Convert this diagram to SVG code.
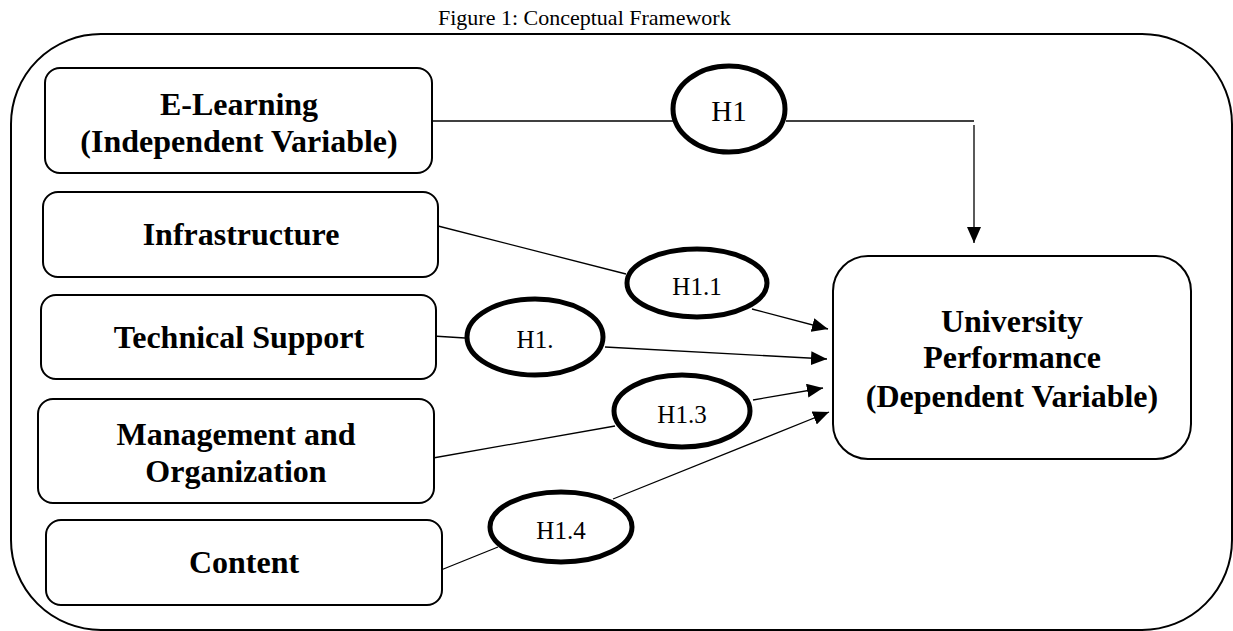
<svg xmlns="http://www.w3.org/2000/svg" width="1233" height="631" viewBox="0 0 1233 631">
  <defs>
    <marker id="arrow" viewBox="0 0 16 14" refX="16" refY="7" markerWidth="16" markerHeight="14" markerUnits="userSpaceOnUse" orient="auto">
      <path d="M0,0 L16,7 L0,14 Z" fill="#000"/>
    </marker>
    <style>
      .box { fill: #fff; stroke: #000; stroke-width: 2; }
      .outer { fill: none; stroke: #000; stroke-width: 2; }
      .hyp { fill: #fff; stroke: #000; stroke-width: 5; }
      .lbl { font-family: "Liberation Serif", "Times New Roman", serif; font-weight: bold; font-size: 32px; text-anchor: middle; fill: #000; }
      .htxt { font-family: "Liberation Serif", "Times New Roman", serif; font-size: 25px; text-anchor: middle; fill: #000; }
      .title { font-family: "Liberation Serif", "Times New Roman", serif; font-size: 22px; fill: #000; }
      .conn { fill: none; stroke: #000; stroke-width: 1.3; }
    </style>
  </defs>
  <rect width="1233" height="631" fill="#fff"/>
  <text class="title" x="438" y="25">Figure 1: Conceptual Framework</text>
  <rect id="frame" class="outer" x="11" y="34" width="1221" height="596" rx="90" ry="90"/>

  <g id="connectors">
    <line class="conn" x1="432" y1="121" x2="673" y2="121"/>
    <line class="conn" x1="786" y1="121" x2="974" y2="121"/>
    <line class="conn" x1="974" y1="125" x2="974" y2="243" marker-end="url(#arrow)"/>
    <line class="conn" x1="438" y1="226" x2="626" y2="274"/>
    <line class="conn" x1="752" y1="309" x2="828" y2="329" marker-end="url(#arrow)"/>
    <line class="conn" x1="433" y1="336" x2="465" y2="338"/>
    <line class="conn" x1="605" y1="347" x2="827" y2="359" marker-end="url(#arrow)"/>
    <line class="conn" x1="433" y1="458" x2="615" y2="426"/>
    <line class="conn" x1="753" y1="400" x2="823" y2="388" marker-end="url(#arrow)"/>
    <line class="conn" x1="436" y1="572" x2="498" y2="547"/>
    <line class="conn" x1="613" y1="499" x2="829" y2="412" marker-end="url(#arrow)"/>
  </g>

  <g id="elearning">
    <rect class="box" x="45" y="68" width="387" height="105" rx="15"/>
    <text class="lbl" x="239" y="115">E-Learning</text>
    <text class="lbl" x="239" y="152">(Independent Variable)</text>
  </g>
  <g id="infrastructure">
    <rect class="box" x="43" y="192" width="395" height="85" rx="15"/>
    <text class="lbl" x="241" y="245">Infrastructure</text>
  </g>
  <g id="technical-support">
    <rect class="box" x="41" y="295" width="395" height="84" rx="15"/>
    <text class="lbl" x="239" y="348">Technical Support</text>
  </g>
  <g id="management">
    <rect class="box" x="38" y="399" width="396" height="104" rx="15"/>
    <text class="lbl" x="236" y="445">Management and</text>
    <text class="lbl" x="236" y="482">Organization</text>
  </g>
  <g id="content">
    <rect class="box" x="46" y="520" width="396" height="85" rx="15"/>
    <text class="lbl" x="244" y="573">Content</text>
  </g>
  <g id="university">
    <rect class="box" x="833" y="256" width="358" height="203" rx="35"/>
    <text class="lbl" x="1012" y="332">University</text>
    <text class="lbl" x="1012" y="368">Performance</text>
    <text class="lbl" x="1012" y="407">(Dependent Variable)</text>
  </g>

  <g id="h1">
    <ellipse class="hyp" cx="729" cy="109" rx="56" ry="43"/>
    <text class="htxt" x="729" y="121" style="font-size:29px">H1</text>
  </g>
  <g id="h1-1">
    <ellipse class="hyp" cx="697" cy="283" rx="70" ry="34"/>
    <text class="htxt" x="697" y="295">H1.1</text>
  </g>
  <g id="h1-2">
    <ellipse class="hyp" cx="535" cy="337" rx="68" ry="38"/>
    <text class="htxt" x="535" y="348">H1.</text>
  </g>
  <g id="h1-3">
    <ellipse class="hyp" cx="682" cy="411" rx="68" ry="36"/>
    <text class="htxt" x="682" y="423">H1.3</text>
  </g>
  <g id="h1-4">
    <ellipse class="hyp" cx="561" cy="527" rx="71" ry="35"/>
    <text class="htxt" x="561" y="539">H1.4</text>
  </g>
</svg>
